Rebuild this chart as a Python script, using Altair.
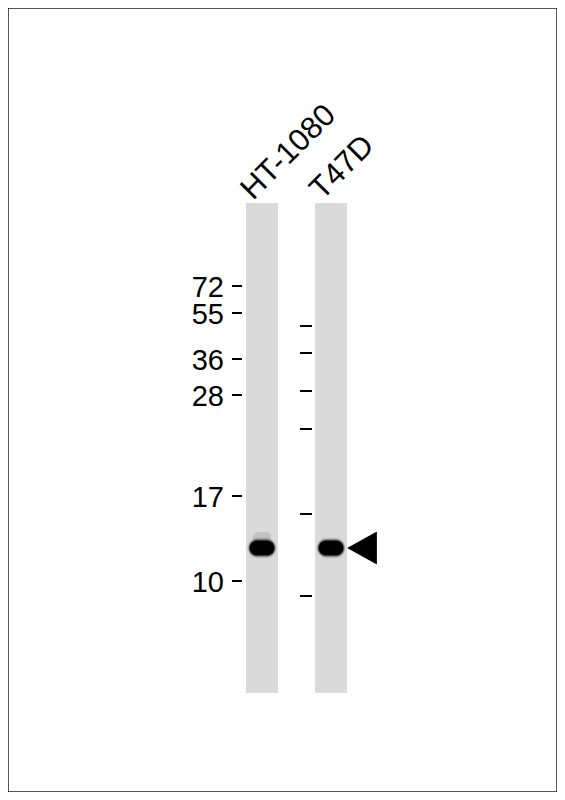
import altair as alt
import pandas as pd

# ---- data read from the blot (units: position along the membrane) ----
lanes = ["HT-1080", "T47D"]
lane_center = [262, 331]
lane_top = [203, 203]
lane_bottom = [693, 693]

marker_kda = ["72", "55", "36", "28", "17", "10"]
marker_pos_ht1080 = [286, 313, 359, 395, 496, 581]   # labelled ladder (left of HT-1080)
marker_pos_t47d = [326, 353, 391, 429, 514, 596]     # unlabelled ladder (left of T47D)

band_lane = ["HT-1080", "T47D"]
band_pos = [548, 548]
smear_lane = ["HT-1080"]
smear_pos = [537]

arrow_lane = "T47D"

# ---- geometry constants ----
LANE_HALF = 16
FONT = "Liberation Sans"
FS_LANE = 31
FS_MARK = 29

xs = alt.Scale(domain=[8, 557], nice=False, zero=False)
ys = alt.Scale(domain=[8, 792], nice=False, zero=False, reverse=True)

center = dict(zip(lanes, lane_center))

lane_df = pd.DataFrame({
    "lane": lanes,
    "x": [c - LANE_HALF for c in lane_center],
    "x2": [c + LANE_HALF for c in lane_center],
    "y": lane_top,
    "y2": lane_bottom,
    "lx": [c - 9 for c in lane_center],
    "ly": [t - 2 for t in lane_top],
})

lane_rects = alt.Chart(lane_df).mark_rect(color="#dadada").encode(
    x=alt.X("x:Q", scale=xs, axis=None), x2="x2:Q",
    y=alt.Y("y:Q", scale=ys, axis=None), y2="y2:Q",
)

lane_labels = alt.Chart(lane_df).mark_text(
    angle=315, align="left", baseline="alphabetic", font=FONT, fontSize=FS_LANE, color="black"
).encode(
    x=alt.X("lx:Q", scale=xs, axis=None),
    y=alt.Y("ly:Q", scale=ys, axis=None),
    text="lane:N",
)

left_edge_ht = center["HT-1080"] - LANE_HALF
left_edge_t = center["T47D"] - LANE_HALF

mk_left = pd.DataFrame({
    "kda": marker_kda,
    "y": marker_pos_ht1080,
    "x": [left_edge_ht - 14] * len(marker_kda),
    "x2": [left_edge_ht - 4] * len(marker_kda),
    "tx": [left_edge_ht - 22] * len(marker_kda),
})
mk_right = pd.DataFrame({
    "y": marker_pos_t47d,
    "x": [left_edge_t - 15] * len(marker_pos_t47d),
    "x2": [left_edge_t - 3] * len(marker_pos_t47d),
})

ticks_left = alt.Chart(mk_left).mark_rule(color="black", strokeWidth=2).encode(
    x=alt.X("x:Q", scale=xs, axis=None), x2="x2:Q",
    y=alt.Y("y:Q", scale=ys, axis=None),
)
ticks_right = alt.Chart(mk_right).mark_rule(color="black", strokeWidth=2).encode(
    x=alt.X("x:Q", scale=xs, axis=None), x2="x2:Q",
    y=alt.Y("y:Q", scale=ys, axis=None),
)
marker_labels = alt.Chart(mk_left).mark_text(
    align="right", baseline="middle", font=FONT, fontSize=FS_MARK, color="black", dy=2
).encode(
    x=alt.X("tx:Q", scale=xs, axis=None),
    y=alt.Y("y:Q", scale=ys, axis=None),
    text="kda:N",
)

def band_frame(lanes_list, pos_list, hw, hh):
    return pd.DataFrame({
        "x": [center[l] - hw for l in lanes_list],
        "x2": [center[l] + hw for l in lanes_list],
        "y": [p - hh for p in pos_list],
        "y2": [p + hh for p in pos_list],
    })

def band_layer(df, color, opacity, radius):
    return alt.Chart(df).mark_rect(color=color, opacity=opacity, cornerRadius=radius).encode(
        x=alt.X("x:Q", scale=xs, axis=None), x2="x2:Q",
        y=alt.Y("y:Q", scale=ys, axis=None), y2="y2:Q",
    )

smear = band_layer(band_frame(smear_lane, smear_pos, 9, 5), "#555555", 0.18, 5)
band_layers = [
    band_layer(band_frame(band_lane, band_pos, 14.5, 10.5), "#000000", 0.08, 10),
    band_layer(band_frame(band_lane, band_pos, 14, 9.5), "#000000", 0.12, 9.5),
    band_layer(band_frame(band_lane, band_pos, 13.5, 8.8), "#000000", 0.2, 8.8),
    band_layer(band_frame(band_lane, band_pos, 13, 8.2), "#000000", 0.35, 8.2),
    band_layer(band_frame(band_lane, band_pos, 12.5, 7.6), "#000000", 0.6, 7.6),
    band_layer(band_frame(band_lane, band_pos, 12, 7), "#000000", 1.0, 7),
]

arrow_df = pd.DataFrame({
    "x": [center[arrow_lane] + LANE_HALF + 15],
    "y": [band_pos[band_lane.index(arrow_lane)]],
})
arrow = alt.Chart(arrow_df).mark_point(
    shape="M-0.9,0L0.9,-1L0.9,1Z", size=1090, filled=True, color="black", opacity=1, strokeWidth=0
).encode(
    x=alt.X("x:Q", scale=xs, axis=None),
    y=alt.Y("y:Q", scale=ys, axis=None),
)

chart = alt.layer(
    lane_rects, smear, *band_layers, ticks_left, ticks_right, marker_labels, lane_labels, arrow
).properties(
    width=549, height=784, padding=0, background="white",
    autosize=alt.AutoSizeParams(type="none"),
).configure_view(stroke="#222222", strokeWidth=1.5)

chart.save("out.html", embed_options={"renderer": "svg", "actions": False})
